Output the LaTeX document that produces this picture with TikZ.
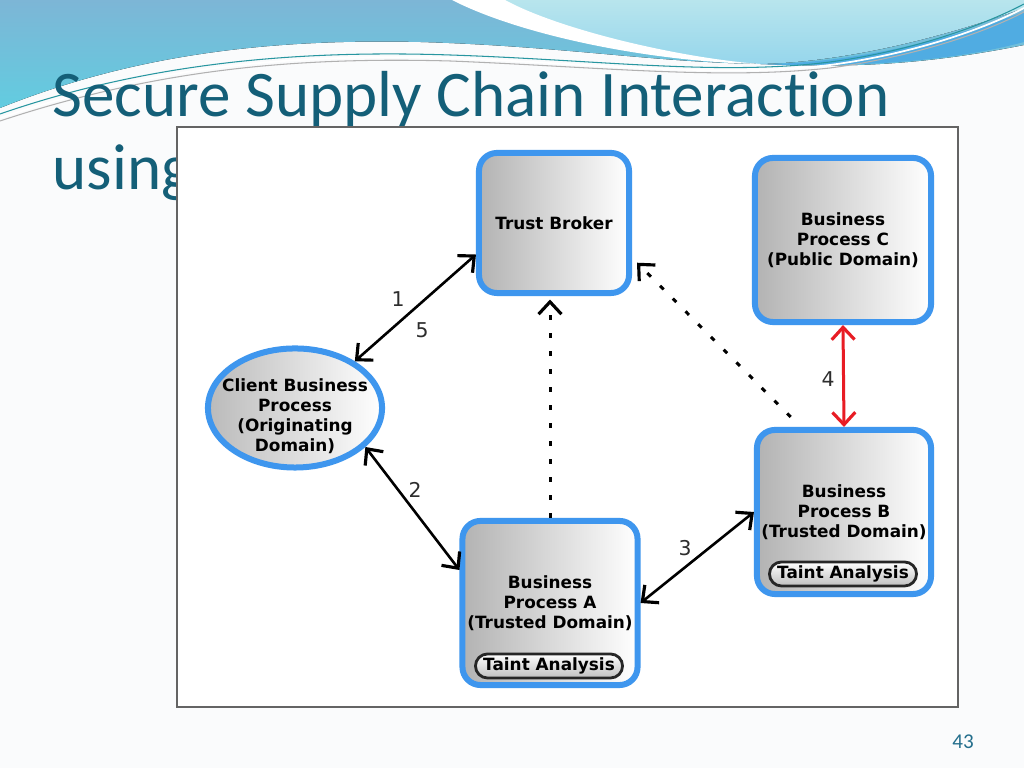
\documentclass[tikz,border=0pt]{standalone}
\usepackage{fontspec}
\setmainfont[Ligatures=NoCommon]{Carlito}
\newfontfamily\diagfont{DejaVu Sans}
\usetikzlibrary{positioning,shapes.geometric,arrows.meta}

\definecolor{slidebg}{RGB}{250,251,252}
\definecolor{slidetitle}{RGB}{20,95,120}
\definecolor{pagenumcol}{RGB}{35,110,140}
\definecolor{framegray}{RGB}{100,100,100}
\definecolor{boxblue}{RGB}{62,150,238}
\definecolor{arrowred}{RGB}{232,28,36}
\definecolor{labelgray}{RGB}{45,45,45}
\definecolor{wavetop}{RGB}{125,182,214}
\definecolor{wavebot}{RGB}{98,204,224}
\definecolor{wavepale}{RGB}{184,229,237}
\definecolor{wavepalebot}{RGB}{150,214,236}
\definecolor{wavedeep}{RGB}{80,172,226}
\definecolor{waveline}{RGB}{40,150,160}

\tikzstyle{title}=[inner sep=0pt,text=slidetitle,font=\fontsize{18.5}{22}\selectfont]
\tikzstyle{pagenum}=[inner sep=0pt,text=pagenumcol,font=\fontsize{6}{7}\selectfont]
\tikzstyle{proc}=[rectangle,rounded corners=0.18cm,draw=boxblue,line width=0.06cm,left color=black!30,right color=white,align=center,inner sep=0pt,font=\diagfont\bfseries\fontsize{4.8}{5.7}\selectfont]
\tikzstyle{client}=[ellipse,draw=boxblue,line width=0.06cm,left color=black!27,right color=white,inner sep=0pt,minimum width=1.74cm,minimum height=1.19cm]
\tikzstyle{clienttext}=[align=center,inner sep=0pt,font=\diagfont\bfseries\fontsize{4.8}{5.7}\selectfont]
\tikzstyle{taint}=[rectangle,rounded corners=0.12cm,draw=black!85,line width=0.8pt,top color=white,bottom color=black!25,minimum width=1.47cm,minimum height=0.24cm,inner sep=0pt,font=\diagfont\bfseries\fontsize{4.8}{5.7}\selectfont]
\tikzstyle{lbl}=[inner sep=0pt,text=labelgray,font=\diagfont\fontsize{5.8}{7}\selectfont]
\tikzstyle{link}=[<->,line width=0.026cm,>={Straight Barb[length=3.5pt,width=6.5pt,line width=0.9pt]}]
\tikzstyle{trust}=[->,line width=0.03cm,dash pattern=on 0.05cm off 0.13cm,>={Straight Barb[length=3.5pt,width=6.5pt,line width=0.9pt]}]

\begin{document}
\begin{tikzpicture}[x=0.01cm,y=-0.01cm]
  \useasboundingbox (0,0) rectangle (1024,768);
  \fill[slidebg] (0,0) rectangle (1024,768);

  \fill[top color=wavetop,bottom color=wavebot] (0,0) -- (1024,0) -- (1024,45)
    .. controls (900,70) and (820,66) .. (760,64)
    .. controls (650,62) and (560,46) .. (420,42)
    .. controls (250,38) and (120,60) .. (0,108) -- cycle;
  \fill[top color=wavepale,bottom color=wavepalebot] (500,0) .. controls (560,30) and (680,60) .. (760,64)
    .. controls (850,62) and (950,35) .. (1024,8) -- (1024,0) -- cycle;
  \fill[white] (452,0) .. controls (520,35) and (650,62) .. (760,64)
    .. controls (680,58) and (560,30) .. (505,0) -- cycle;
  \fill[wavedeep] (760,64) .. controls (860,64) and (960,35) .. (1024,12) -- (1024,42)
    .. controls (950,62) and (850,68) .. (760,64) -- cycle;
  \draw[waveline,line width=0.3pt] (0,114) .. controls (150,62) and (300,50) .. (450,55)
    .. controls (600,60) and (720,76) .. (830,62) .. controls (920,50) and (990,22) .. (1024,4);
  \draw[white,line width=0.5pt] (0,118) .. controls (160,64) and (300,54) .. (450,58)
    .. controls (600,64) and (720,78) .. (830,65) .. controls (920,53) and (990,26) .. (1024,8);
  \draw[framegray!50,line width=0.3pt] (0,121) .. controls (160,68) and (300,57) .. (450,61)
    .. controls (600,67) and (720,80) .. (830,68) .. controls (920,56) and (990,30) .. (1024,12);

  \node[title,anchor=base west] (title1) at (52,117) {Secure Supply Chain Interaction};
  \node[title,anchor=base west] (title2) at (52,190) {using};
  \node[pagenum] (pnum) at (963,742) {43};

  \draw[framegray,fill=white,line width=0.5pt] (177,127) rectangle (958,707);

  \node[proc,minimum width=1.50cm,minimum height=1.40cm] (tb) at (554,223) {Trust Broker};
  \node[proc,minimum width=1.76cm,minimum height=1.64cm] (bpc) at (843,240) {Business\\Process C\\(Public Domain)};
  \node[proc,minimum width=1.75cm,minimum height=1.64cm] (bpa) at (550,603) {Business\\Process A\\(Trusted Domain)};
  \node[proc,minimum width=1.74cm,minimum height=1.64cm] (bpb) at (844,512) {Business\\Process B\\(Trusted Domain)};
  \node[client] (cbp) at (295,408) {};
  \node[clienttext] (cbptext) at (295,416) {Client Business\\Process\\(Originating\\Domain)};

  \node[taint] (taintA) at (549,666) {Taint Analysis};
  \node[taint] (taintB) at (843,574) {Taint Analysis};

  \draw[link] (cbp.38) -- (tb.202);
  \draw[link] (cbp.-29) -- (bpa.160);
  \draw[link] (bpa.east) -- (bpb.west);
  \draw[link,arrowred,line width=0.03cm] (bpc.south) -- (bpb.north);
  \draw[trust,shorten >=1pt] (bpa.north) -- (bpa.north |- tb.south);
  \draw[trust,shorten >=2pt,shorten <=4pt] (bpb.117) -- (tb.-24);

  \node[lbl] (l1) at (398,299) {1};
  \node[lbl] (l5) at (422,330) {5};
  \node[lbl] (l2) at (415,490) {2};
  \node[lbl] (l3) at (685,548) {3};
  \node[lbl] (l4) at (828,379) {4};
\end{tikzpicture}
\end{document}
